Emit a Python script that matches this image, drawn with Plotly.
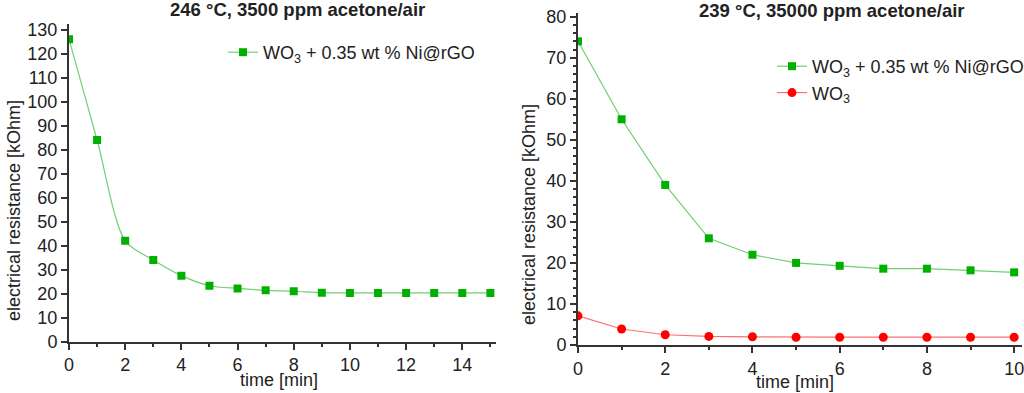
import plotly.graph_objects as go

# ---- data ----
time_left = list(range(0, 16))
r_left_ni = [126, 84, 42, 34, 27.5, 23.3, 22.2, 21.4, 21.0, 20.4, 20.3, 20.3, 20.3, 20.3, 20.3, 20.3]

time_right = list(range(0, 11))
r_right_ni = [74, 55, 39, 26, 22, 20, 19.3, 18.6, 18.6, 18.2, 17.7]
r_right_wo3 = [7.1, 3.9, 2.5, 2.1, 2.0, 1.9, 1.9, 1.9, 1.9, 1.9, 1.9]

title_left = "246 °C, 3500 ppm acetone/air"
title_right = "239 °C, 35000 ppm acetone/air"
name_ni = "WO<sub>3</sub> + 0.35 wt % Ni@rGO"
name_wo3 = "WO<sub>3</sub>"
ylabel = "electrical resistance [kOhm]"
xlabel = "time [min]"

FONT = "Liberation Sans, Arial, sans-serif"
GREEN = "#00b000"
GREEN_L = "#70d070"
RED = "#ff0000"
RED_L = "#ff7070"
AX = "#333333"

fig = go.Figure()
fig.add_trace(go.Scatter(x=time_left, y=r_left_ni, mode="lines+markers", name=name_ni,
                         line=dict(color=GREEN_L, width=1.2, shape="spline", smoothing=0.8),
                         marker=dict(symbol="square", size=8, color=GREEN),
                         xaxis="x", yaxis="y", legend="legend"))
fig.add_trace(go.Scatter(x=time_right, y=r_right_ni, mode="lines+markers", name=name_ni,
                         line=dict(color=GREEN_L, width=1.2),
                         marker=dict(symbol="square", size=8, color=GREEN),
                         xaxis="x2", yaxis="y2", legend="legend2"))
fig.add_trace(go.Scatter(x=time_right, y=r_right_wo3, mode="lines+markers", name=name_wo3,
                         line=dict(color=RED_L, width=1.2),
                         marker=dict(symbol="circle", size=9, color=RED),
                         xaxis="x2", yaxis="y2", legend="legend2"))

W, H = 1024, 393
def px(x): return x / W
def py(y): return 1 - y / H

axcommon = dict(showline=True, linecolor=AX, linewidth=2, ticks="outside", ticklen=6,
                tickwidth=1.5, tickcolor=AX, showgrid=False, zeroline=False, automargin=False,
                ticklabeloverflow="allow",
                tickfont=dict(family=FONT, size=18, color="#222"))

fig.update_layout(
    width=W, height=H, margin=dict(l=0, r=0, t=0, b=0, autoexpand=False),
    paper_bgcolor="white", plot_bgcolor="white",
    font=dict(family=FONT, color="#222"),
    xaxis=dict(domain=[px(69), px(496)], range=[0, 15.2], dtick=2, tick0=0,
               minor=dict(dtick=1, ticks="outside", ticklen=3, tickcolor=AX),
               anchor="y", **axcommon),
    yaxis=dict(domain=[py(341.7), py(24)], range=[0, 132.3], dtick=10, tick0=0,
               anchor="x", **axcommon),
    xaxis2=dict(domain=[px(578), px(1022)], range=[0, 10.18], dtick=2, tick0=0,
                minor=dict(dtick=1, ticks="outside", ticklen=3, tickcolor=AX),
                anchor="y2", **axcommon),
    yaxis2=dict(domain=[py(345), py(13)], range=[0, 80.9], dtick=10, tick0=0,
                minor=dict(dtick=2, ticks="outside", ticklen=3, tickcolor=AX),
                anchor="x2", **axcommon),
    legend=dict(x=px(223), y=py(34), xanchor="left", yanchor="top",
                bgcolor="rgba(0,0,0,0)", font=dict(family=FONT, size=18, color="#222")),
    legend2=dict(x=px(772), y=py(48), xanchor="left", yanchor="top", tracegroupgap=0,
                 bgcolor="rgba(0,0,0,0)", font=dict(family=FONT, size=18, color="#222")),
    showlegend=True,
)

ann = [
    dict(text="<b>" + title_left + "</b>", x=px(297), y=py(9), font=dict(size=18.5)),
    dict(text="<b>" + title_right + "</b>", x=px(832), y=py(11), font=dict(size=18.5)),
    dict(text=xlabel, x=px(279), y=py(380), font=dict(size=18)),
    dict(text=xlabel, x=px(795), y=py(382), font=dict(size=18)),
    dict(text=ylabel, x=px(14), y=py(211), textangle=-90, font=dict(size=18)),
    dict(text=ylabel, x=px(529), y=py(215), textangle=-90, font=dict(size=18)),
]
for a in ann:
    a.update(xref="paper", yref="paper", showarrow=False, xanchor="center", yanchor="middle")
    a["font"].update(family=FONT, color="#222")
fig.update_layout(annotations=ann)

fig.write_html("out.html", config={"displayModeBar": False},
               post_script="document.body.style.margin='0';document.body.style.overflow='hidden';")
